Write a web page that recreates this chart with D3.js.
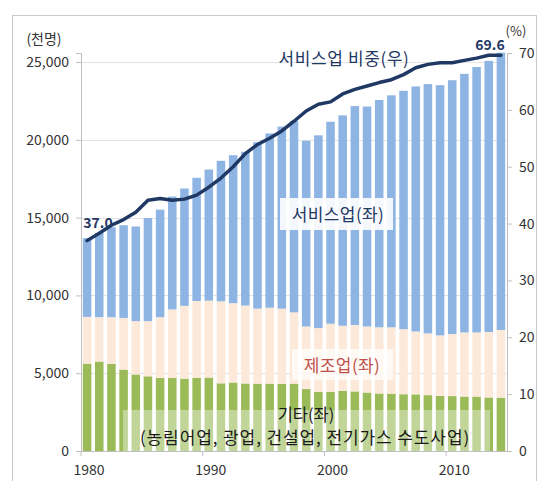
<!DOCTYPE html>
<html><head><meta charset="utf-8">
<script src="https://cdn.jsdelivr.net/npm/d3@7"></script>
<style>
body{margin:0;background:#fff}
svg{display:block}
text{font-family:"Noto Sans CJK KR","Noto Sans",sans-serif}
</style>
</head><body>
<svg id="c" width="541" height="481"></svg>
<script>
const years = [1980,1981,1982,1983,1984,1985,1986,1987,1988,1989,1990,1991,1992,1993,1994,1995,1996,1997,1998,1999,2000,2001,2002,2003,2004,2005,2006,2007,2008,2009,2010,2011,2012,2013,2014];
// 기타 (농림어업, 광업, 건설업, 전기가스 수도사업), 천명
const other = [5620,5750,5600,5230,4920,4800,4700,4690,4650,4700,4720,4350,4400,4340,4330,4330,4320,4330,3980,3800,3810,3870,3830,3760,3700,3690,3650,3640,3590,3540,3530,3500,3500,3440,3430];
// 제조업, 천명
const manufacturing = [3000,2850,3000,3320,3430,3550,3900,4410,4680,4940,4940,5270,5100,5010,4820,4880,4830,4580,4020,4100,4370,4180,4270,4240,4250,4260,4180,4040,3970,3890,3990,4120,4120,4210,4350];
// 서비스업, 천명
const services = [5060,5420,5780,5960,6080,6620,6910,7250,7540,7920,8430,9030,9510,9880,10700,11200,11700,12300,11940,12390,12980,13520,14070,14140,14610,14910,15320,15750,16020,16080,16310,16620,17060,17420,17820];
// 서비스업 비중 (%)
const serviceShare = [37.0,38.3,39.7,40.7,42.0,44.1,44.4,44.1,44.3,45.0,46.4,48.0,50.0,52.3,53.9,55.0,56.3,58.0,59.8,61.0,61.4,62.8,63.6,64.2,64.8,65.3,66.2,67.4,68.0,68.3,68.3,68.7,69.1,69.6,69.6];
const leftTicks = [0,5000,10000,15000,20000,25000];
const rightTicks = [0,10,20,30,40,50,60,70];
const xLabelYears = [1980,1990,2000,2010];

const svg = d3.select("#c");
const L = 81, R = 507, T = 53, B = 451;

// outer frame
svg.append("rect").attr("x",12.5).attr("y",15.5).attr("width",524).attr("height",475)
  .attr("fill","none").attr("stroke","#c8c8c8");

const x = d3.scaleBand().domain(years).range([L,R]).paddingInner(0.3).paddingOuter(0.15);
const yL = d3.scaleLinear().domain([0,25580]).range([B,T]);
const yR = d3.scaleLinear().domain([0,70]).range([B,T]);

// gridlines
svg.append("g").selectAll("line").data(leftTicks.filter(d=>d>0)).join("line")
  .attr("x1",L).attr("x2",R).attr("y1",d=>Math.round(yL(d))+0.5).attr("y2",d=>Math.round(yL(d))+0.5)
  .attr("stroke","#e3e3e3");

// stacked bars
const rows = years.map((y,i)=>({year:y, other:other[i], manufacturing:manufacturing[i], services:services[i]}));
const keys = ["other","manufacturing","services"];
const colors = {other:"#9bbb59", manufacturing:"#fde9d9", services:"#8db4e2"};
const stack = d3.stack().keys(keys)(rows);
svg.append("g").selectAll("g").data(stack).join("g").attr("fill",d=>colors[d.key])
  .selectAll("rect").data(d=>d).join("rect")
  .attr("x",d=>x(d.data.year)).attr("width",x.bandwidth())
  .attr("y",d=>yL(d[1])).attr("height",d=>yL(d[0])-yL(d[1]));

// axes
const gl = svg.append("g").attr("transform",`translate(${L},0)`)
  .call(d3.axisLeft(yL).tickValues(leftTicks).tickSize(5).tickPadding(7).tickFormat(d3.format(",")));
const gr = svg.append("g").attr("transform",`translate(${R},0)`)
  .call(d3.axisRight(yR).tickValues(rightTicks).tickSize(5).tickPadding(7));
const step = x.step();
const x0 = x(years[0]) - x.paddingOuter()*step;
const xt = d3.scaleLinear().domain([years[0], years[0]+1]).range([x0, x0 + step]);
const gb = svg.append("g").attr("transform",`translate(0,${B})`);
gb.append("line").attr("x1",L).attr("x2",R+3).attr("y1",0.5).attr("y2",0.5).attr("stroke","#bfbfbf");
gb.selectAll("line.t").data(xLabelYears).join("line").attr("class","t")
  .attr("x1",d=>xt(d)).attr("x2",d=>xt(d)).attr("y1",0).attr("y2",5).attr("stroke","#bfbfbf");
gb.selectAll("text").data(xLabelYears).join("text")
  .attr("x",d=>x(d)+x.bandwidth()/2+2).attr("y",24).attr("text-anchor","middle")
  .attr("font-size",14).attr("fill","#333").text(d=>d);

[gl,gr].forEach(g=>{
  g.select(".domain").attr("stroke","#bfbfbf");
  g.selectAll(".tick line").attr("stroke","#bfbfbf");
  g.selectAll(".tick text").attr("font-size",14).attr("fill","#333")
    .style("font-family",'"Noto Sans CJK KR",sans-serif');
});

// label boxes
svg.append("rect").attr("x",280).attr("y",198).attr("width",113).attr("height",32).attr("fill","#fff").attr("opacity",0.9);
svg.append("rect").attr("x",292).attr("y",349).attr("width",101).attr("height",31).attr("fill","#fff").attr("opacity",0.7);
svg.append("rect").attr("x",123).attr("y",410).attr("width",367).attr("height",41).attr("fill","#fff").attr("opacity",0.38);

// service share line
const line = d3.line().x((d,i)=>x(years[i])+x.bandwidth()/2).y(d=>yR(d));
svg.append("path").datum(serviceShare).attr("d",line).attr("fill","none")
  .attr("stroke","#1f3864").attr("stroke-width",3.5).attr("stroke-linejoin","round").attr("stroke-linecap","round");

// text labels
const T1 = (t,xx,yy,opt={})=>svg.append("text").attr("x",xx).attr("y",yy)
  .attr("text-anchor",opt.anchor||"middle").attr("font-size",opt.size||17)
  .attr("font-weight",opt.weight||"normal").attr("fill",opt.fill||"#1f3864")
  .attr("letter-spacing",opt.ls||0).text(t);
T1("(천명)",44,44,{size:14,fill:"#333"});
T1("(%)",516,36,{size:13,fill:"#333"});
T1("서비스업 비중(우)",344,65,{fill:"#1f3864",ls:0.6});
T1("37.0",98,228,{size:14,weight:"bold"});
T1("69.6",490,50,{size:14,weight:"bold"});
T1("서비스업(좌)",338,221,{fill:"#1f3864",ls:0.4});
T1("제조업(좌)",342,372,{fill:"#c0504d",ls:0.4});
T1("기타(좌)",306,421,{fill:"#1a1a1a",size:16.5});
T1("(농림어업, 광업, 건설업, 전기가스 수도사업)",305,444,{fill:"#1a1a1a",size:17,ls:0.9});
</script>
</body></html>
